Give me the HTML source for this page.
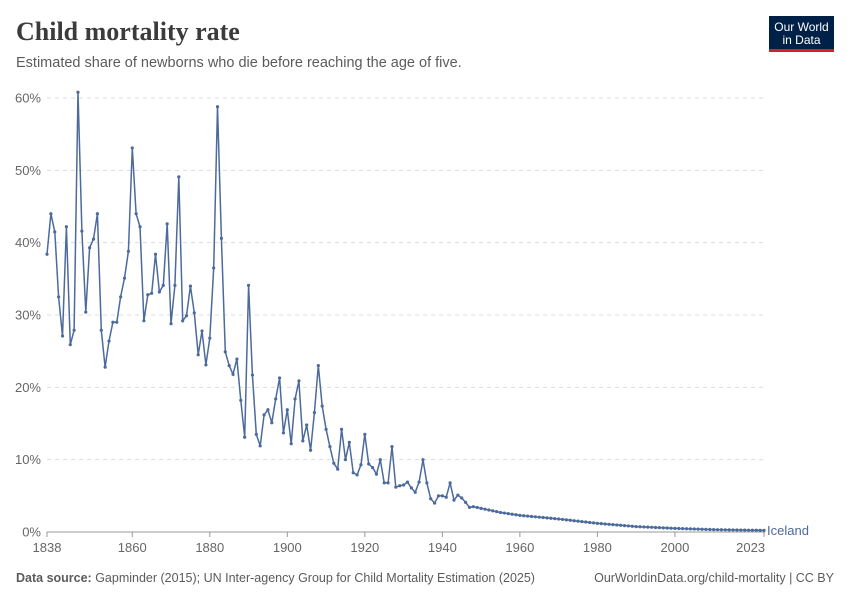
<!DOCTYPE html>
<html><head><meta charset="utf-8"><style>
body{margin:0;background:#fff;width:850px;height:600px;overflow:hidden;font-family:"Liberation Sans",sans-serif;}
</style></head><body>
<svg id="s" width="850" height="600" xmlns="http://www.w3.org/2000/svg">
<text x="16" y="40" font-family="Liberation Serif,serif" font-weight="bold" font-size="26" fill="#3b3b3b">Child mortality rate</text>
<text x="16" y="67" font-size="14.5" fill="#5b5b5b">Estimated share of newborns who die before reaching the age of five.</text>
<rect x="769" y="16" width="65" height="36" fill="#002147"/>
<rect x="769" y="49" width="65" height="3" fill="#ce261e"/>
<text x="801.5" y="31" font-size="12" fill="#fff" text-anchor="middle">Our World</text>
<text x="801.5" y="44" font-size="12" fill="#fff" text-anchor="middle">in Data</text>
<g id="grid"></g>
<g id="data"></g>
<text x="767" y="535" font-size="13" fill="#4c6a9c">Iceland</text>
<text x="16" y="582" font-size="12.5" fill="#5b5b5b"><tspan font-weight="bold">Data source:</tspan> Gapminder (2015); UN Inter-agency Group for Child Mortality Estimation (2025)</text>
<text x="834" y="582" font-size="12.5" fill="#5b5b5b" text-anchor="end">OurWorldinData.org/child-mortality | CC BY</text>
</svg>
<script>
var ns="http://www.w3.org/2000/svg";
function el(t,a,p,txt){var e=document.createElementNS(ns,t);for(var k in a)e.setAttribute(k,a[k]);if(txt)e.textContent=txt;document.getElementById(p).appendChild(e);return e;}
function X(yr){return 47+(yr-1838)*3.876;}
function Y(v){return 532-v*7.233;}
for(var i=0;i<=6;i++){var y=Y(i*10);
 if(i>0)el('line',{x1:47,x2:763,y1:y,y2:y,stroke:'#dddddd','stroke-dasharray':'4,4'},'grid');
 el('text',{x:41,y:y+4.5,'font-size':13,fill:'#666','text-anchor':'end'},'grid',(i*10)+'%');}
el('line',{x1:47,x2:765,y1:532,y2:532,stroke:'#999'},'grid');
var ticks=[1838,1860,1880,1900,1920,1940,1960,1980,2000,2023];
ticks.forEach(function(t){var x=X(t);el('line',{x1:x,x2:x,y1:532,y2:537,stroke:'#999'},'grid');
 el('text',{x:t==2023?x+1:x,y:552,'font-size':13,fill:'#666','text-anchor':t==2023?'end':(t==1838?'middle':'middle')},'grid',''+t);});
var v=[38.4,44.0,41.5,32.5,27.1,42.2,25.9,27.9,60.8,41.6,30.4,39.3,40.5,44.0,27.9,22.8,26.4,29.0,29.0,32.5,35.1,38.8,53.1,44.0,42.2,29.2,32.8,33.0,38.4,33.2,34.1,42.6,28.8,34.1,49.1,29.2,29.9,34.0,30.3,24.5,27.8,23.1,26.8,36.5,58.8,40.6,24.9,23.0,21.8,23.9,18.2,13.1,34.1,21.7,13.5,11.9,16.2,16.9,15.1,18.4,21.3,13.7,16.9,12.2,18.4,20.9,12.6,14.8,11.3,16.5,23.0,17.4,14.2,11.8,9.5,8.7,14.2,10.0,12.4,8.2,7.9,9.3,13.5,9.4,8.9,8.0,10.0,6.8,6.8,11.8,6.2,6.4,6.5,6.9,6.1,5.5,6.9,10.0,6.8,4.6,4.0,5.0,5.0,4.8,6.8,4.4,5.1,4.7,4.1,3.4,3.5];
var anc=[[1948,3.5],[1955,2.7],[1960,2.3],[1970,1.8],[1980,1.2],[1990,0.75],[2000,0.5],[2010,0.33],[2023,0.22]];
for(var yr=1949;yr<=2023;yr++){for(var j=0;j<anc.length-1;j++){if(yr>=anc[j][0]&&yr<=anc[j+1][0]){var f=(yr-anc[j][0])/(anc[j+1][0]-anc[j][0]);v.push(anc[j][1]+f*(anc[j+1][1]-anc[j][1]));break;}}}
var d='';v.forEach(function(val,i){var x=X(1838+i),y=Y(val);d+=(i?'L':'M')+x.toFixed(1)+','+y.toFixed(1);el('circle',{cx:x,cy:y,r:1.6,fill:'#4c6a9c'},'data');});
el('path',{d:d,fill:'none',stroke:'#4c6a9c','stroke-width':1.5},'data');
</script>
</body></html>
